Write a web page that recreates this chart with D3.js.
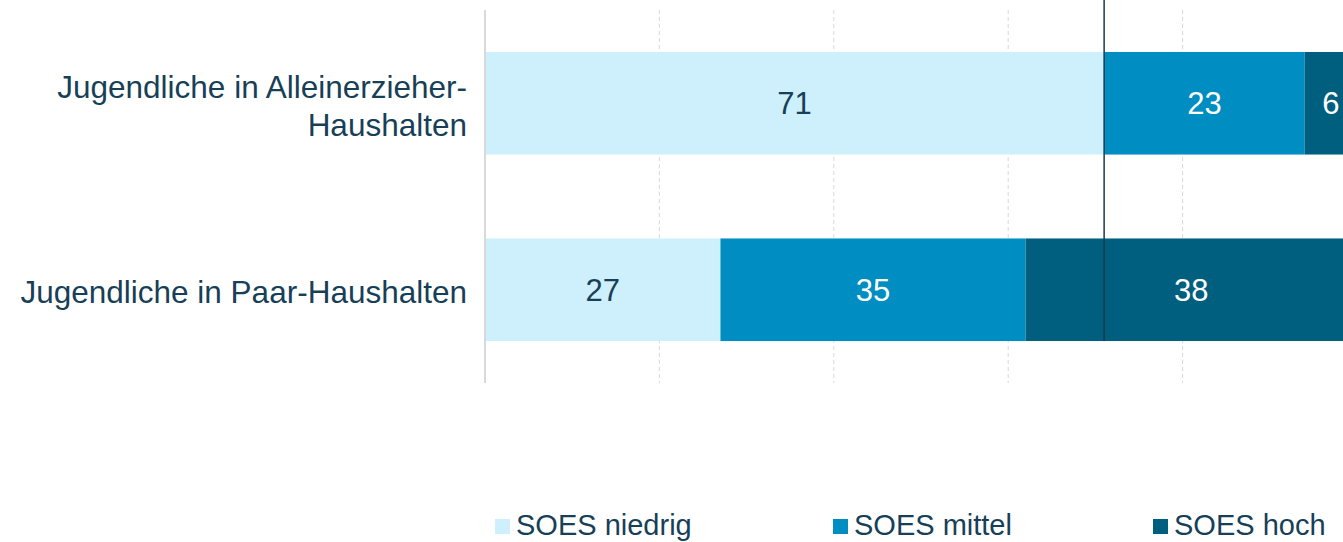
<!DOCTYPE html>
<html>
<head>
<meta charset="utf-8">
<script src="https://cdn.jsdelivr.net/npm/d3@7"></script>
<style>
  html, body { margin: 0; padding: 0; background: #fff; }
  svg { display: block; font-family: "Liberation Sans", Arial, sans-serif; }
</style>
</head>
<body>
<svg id="chart" width="1343" height="542"></svg>
<script>
var categories = [
  ["Jugendliche in Alleinerzieher-", "Haushalten"],
  ["Jugendliche in Paar-Haushalten"]
];
var seriesNames = ["SOES niedrig", "SOES mittel", "SOES hoch"];
var niedrig = [71, 27];
var mittel = [23, 35];
var hoch = [6, 38];
var gridTicks = [0, 20, 40, 60, 80, 100];
var markerValue = 71;

var colors = ["#cdf0fc", "#008dc1", "#005e7e"];
var labelColors = ["#173f58", "#ffffff", "#ffffff"];
var textColor = "#173f58";

var svg = d3.select("#chart");

var x = d3.scaleLinear().domain([0, 100]).range([485, 1357]);
var y = d3.scaleBand()
  .domain(d3.range(categories.length))
  .range([10, 383])
  .paddingInner(0.45)
  .paddingOuter(0.225);

// gridlines
svg.append("g").selectAll("line")
  .data(gridTicks.filter(function(d) { return d > 0; }))
  .join("line")
  .attr("x1", function(d) { return x(d); })
  .attr("x2", function(d) { return x(d); })
  .attr("y1", 10).attr("y2", 383)
  .attr("stroke", "#d9d9d9")
  .attr("stroke-width", 1)
  .attr("stroke-dasharray", "4 3");

// stacked data
var rows = categories.map(function(c, i) {
  return { i: i, niedrig: niedrig[i], mittel: mittel[i], hoch: hoch[i] };
});
var stack = d3.stack().keys(["niedrig", "mittel", "hoch"]);
var layers = stack(rows);

var layerG = svg.append("g").selectAll("g")
  .data(layers)
  .join("g")
  .attr("fill", function(d, k) { return colors[k]; });

layerG.selectAll("rect")
  .data(function(d) { return d; })
  .join("rect")
  .attr("x", function(d) { return x(d[0]); })
  .attr("width", function(d) { return x(d[1]) - x(d[0]); })
  .attr("y", function(d) { return y(d.data.i); })
  .attr("height", y.bandwidth());

layerG.selectAll("text")
  .data(function(d, k) { return d.map(function(p) { return { p: p, k: k }; }); })
  .join("text")
  .attr("x", function(d) {
    var cx = (x(d.p[0]) + x(d.p[1])) / 2;
    return Math.min(cx, 1334);
  })
  .attr("y", function(d) { return y(d.p.data.i) + y.bandwidth() / 2; })
  .attr("dy", "0.36em")
  .attr("text-anchor", "middle")
  .attr("font-size", 31)
  .attr("fill", function(d) { return labelColors[d.k]; })
  .text(function(d) { return d.p[1] - d.p[0]; });

// axis line
svg.append("line")
  .attr("x1", x(0)).attr("x2", x(0))
  .attr("y1", 10).attr("y2", 383)
  .attr("stroke", "#d9d9d9")
  .attr("stroke-width", 2);

// marker line
svg.append("line")
  .attr("x1", x(markerValue)).attr("x2", x(markerValue))
  .attr("y1", 0).attr("y2", y(1) + y.bandwidth())
  .attr("stroke", "#17394d")
  .attr("stroke-width", 1.5);

// category labels
svg.append("g").selectAll("text")
  .data(categories)
  .join("text")
  .attr("text-anchor", "end")
  .attr("font-size", 31.5)
  .attr("fill", textColor)
  .each(function(lines, i) {
    var cy = y(i) + y.bandwidth() / 2;
    var lh = 38;
    var t = d3.select(this);
    lines.forEach(function(line, j) {
      t.append("tspan")
        .attr("x", 467)
        .attr("y", cy + (j - (lines.length - 1) / 2) * lh + 2)
        .attr("dy", "0.36em")
        .text(line);
    });
  });

// legend
var legendX = [495, 833, 1153];
var legend = svg.append("g").selectAll("g")
  .data(seriesNames)
  .join("g")
  .attr("transform", function(d, k) { return "translate(" + legendX[k] + ",519)"; });

legend.append("rect")
  .attr("width", 15).attr("height", 15)
  .attr("fill", function(d, k) { return colors[k]; });

legend.append("text")
  .attr("x", 21)
  .attr("y", 6)
  .attr("dy", "0.36em")
  .attr("font-size", 29)
  .attr("fill", textColor)
  .text(function(d) { return d; });
</script>
</body>
</html>
